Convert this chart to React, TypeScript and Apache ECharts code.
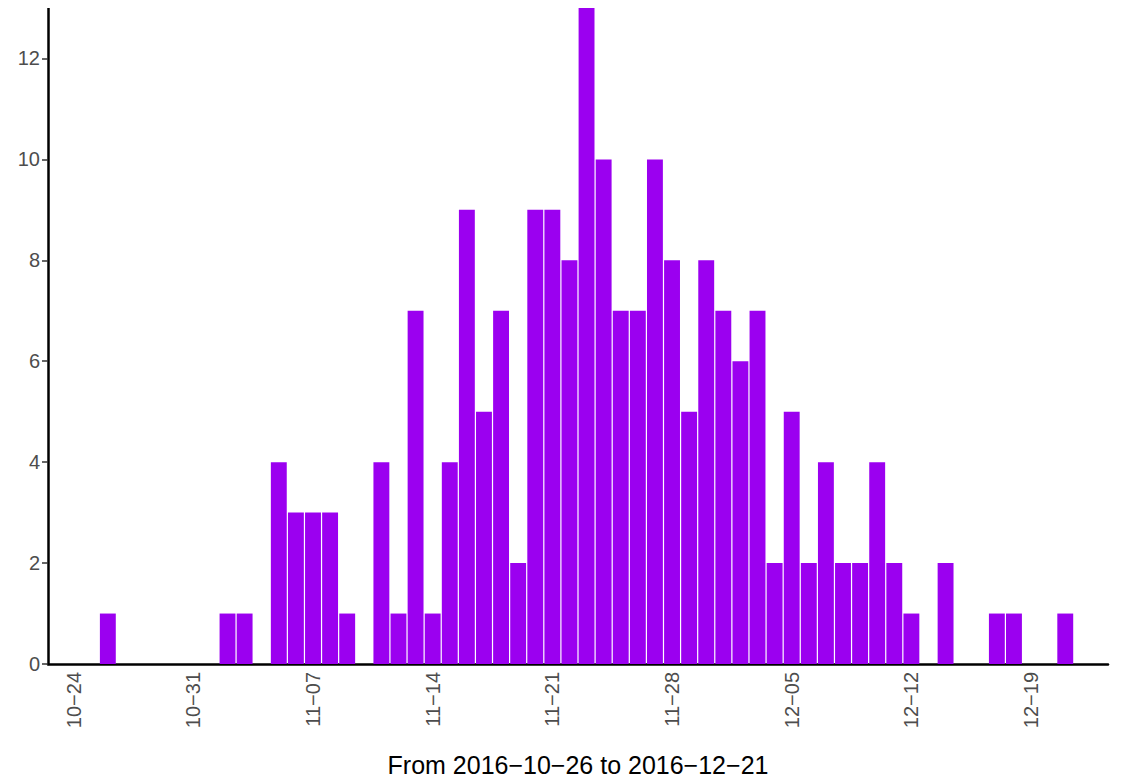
import { useRef, useEffect } from "react";
import * as echarts from "echarts";

// one category per day, 2016-10-23 .. 2016-12-23
const days: string[] = [
  "10-23", "10-24", "10-25", "10-26", "10-27", "10-28", "10-29", "10-30", "10-31",
  "11-01", "11-02", "11-03", "11-04", "11-05", "11-06", "11-07", "11-08", "11-09", "11-10",
  "11-11", "11-12", "11-13", "11-14", "11-15", "11-16", "11-17", "11-18", "11-19", "11-20",
  "11-21", "11-22", "11-23", "11-24", "11-25", "11-26", "11-27", "11-28", "11-29", "11-30",
  "12-01", "12-02", "12-03", "12-04", "12-05", "12-06", "12-07", "12-08", "12-09", "12-10",
  "12-11", "12-12", "12-13", "12-14", "12-15", "12-16", "12-17", "12-18", "12-19", "12-20",
  "12-21", "12-22", "12-23",
];

const counts: number[] = [
  0, 0, 0, 1, 0, 0, 0, 0, 0,
  0, 1, 1, 0, 4, 3, 3, 3, 1, 0,
  4, 1, 7, 1, 4, 9, 5, 7, 2, 9,
  9, 8, 13, 10, 7, 7, 10, 8, 5, 8,
  7, 6, 7, 2, 5, 2, 4, 2, 2, 4,
  2, 1, 0, 2, 0, 0, 1, 1, 0, 0,
  1, 0, 0,
];

const tickDays = ["10-24", "10-31", "11-07", "11-14", "11-21", "11-28", "12-05", "12-12", "12-19"];

const FONT = "'Liberation Sans', Arial, sans-serif";

export default function App() {
  const chartRef = useRef<HTMLDivElement>(null);

  useEffect(() => {
    if (!chartRef.current) return;
    const chart = echarts.init(chartRef.current, undefined, { renderer: "svg" });
    const showTick = (_: number, v: string) => tickDays.includes(v);
    chart.setOption({
      animation: false,
      grid: { left: 40, right: 10, top: 0, bottom: 117, outerBoundsMode: "none", containLabel: false },
      xAxis: {
        type: "category",
        data: days,
        boundaryGap: true,
        axisLine: { show: true, onZero: false, lineStyle: { color: "#000", width: 2.5 } },
        axisTick: { alignWithLabel: true, interval: showTick, lineStyle: { color: "#333", width: 1.5 }, length: 6 },
        axisLabel: {
          interval: showTick,
          rotate: 90,
          color: "#4d4d4d",
          fontSize: 20,
          fontFamily: FONT,
          formatter: (v: string) => v.replace("-", "\u2212"),
        },
        name: "From 2016\u221210\u221226 to 2016\u221212\u221221",
        nameLocation: "middle",
        nameGap: 88,
        nameTextStyle: { color: "#000", fontSize: 25, fontFamily: FONT },
      },
      yAxis: {
        type: "value",
        min: 0,
        max: 13,
        interval: 2,
        axisLine: { show: true, lineStyle: { color: "#000", width: 2.5 } },
        axisTick: { show: true, length: 6, lineStyle: { color: "#333", width: 1.5 } },
        axisLabel: { color: "#4d4d4d", fontSize: 20, fontFamily: FONT, showMaxLabel: false },
        splitLine: { show: false },
      },
      series: [
        {
          type: "bar",
          data: counts,
          barWidth: "93%",
          itemStyle: { color: "#9b00f0" },
        },
      ],
    });
    return () => chart.dispose();
  }, []);

  return <div ref={chartRef} style={{ width: "1110px", height: "773px" }} />;
}
